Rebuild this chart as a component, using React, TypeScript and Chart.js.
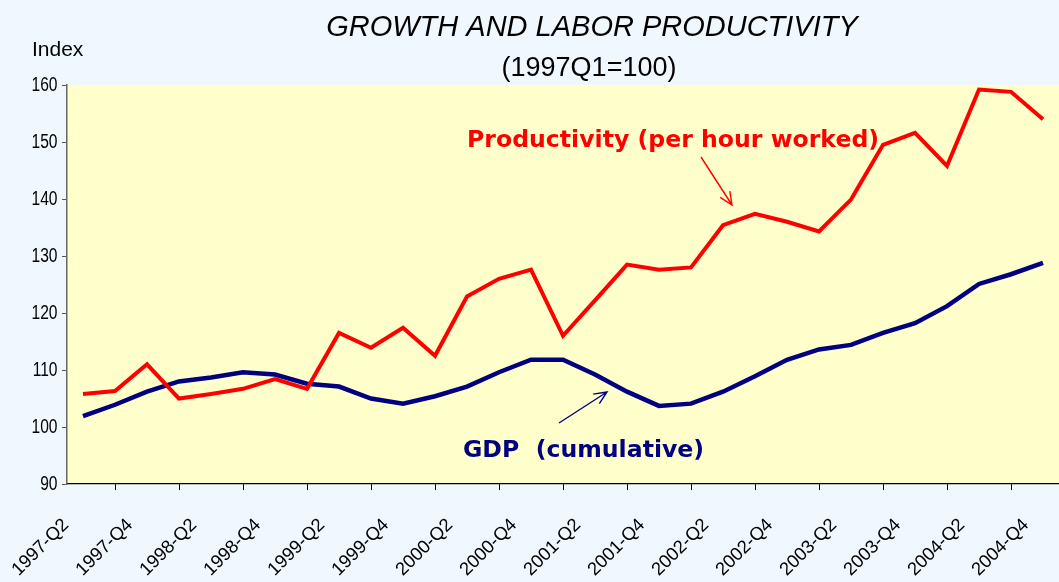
import { useEffect, useRef } from "react";
import { Chart, registerables } from "chart.js";

Chart.register(...registerables);

const quarters = [
  "1997-Q2", "1997-Q3", "1997-Q4",
  "1998-Q1", "1998-Q2", "1998-Q3", "1998-Q4",
  "1999-Q1", "1999-Q2", "1999-Q3", "1999-Q4",
  "2000-Q1", "2000-Q2", "2000-Q3", "2000-Q4",
  "2001-Q1", "2001-Q2", "2001-Q3", "2001-Q4",
  "2002-Q1", "2002-Q2", "2002-Q3", "2002-Q4",
  "2003-Q1", "2003-Q2", "2003-Q3", "2003-Q4",
  "2004-Q1", "2004-Q2", "2004-Q3", "2004-Q4",
];

const productivity = [
  105.8, 106.3, 111.0, 105.0, 105.8, 106.7, 108.4, 106.7, 116.5, 113.9,
  117.4, 112.5, 122.9, 126.0, 127.6, 116.0, 122.2, 128.5, 127.6, 128.0,
  135.4, 137.4, 136.0, 134.3, 139.9, 149.5, 151.6, 145.8, 159.2, 158.8, 154.0,
];

const gdp = [
  101.9, 103.9, 106.2, 108.0, 108.7, 109.6, 109.2, 107.6, 107.1, 105.0,
  104.1, 105.4, 107.1, 109.6, 111.8, 111.8, 109.2, 106.2, 103.7, 104.1,
  106.2, 108.9, 111.8, 113.6, 114.4, 116.5, 118.2, 121.2, 125.1, 126.8, 128.8,
];

const Y_MIN = 90;
const Y_MAX = 160;
const Y_STEP = 10;

const TITLE = "GROWTH AND LABOR PRODUCTIVITY";
const SUBTITLE = "(1997Q1=100)";
const Y_LABEL = "Index";
const PROD_LABEL = "Productivity (per hour worked)";
const GDP_LABEL = "GDP  (cumulative)";

const RED = "#FF0000";
const NAVY = "#000080";
const SANS = "'Liberation Sans', Arial, sans-serif";

function arrow(ctx: CanvasRenderingContext2D, x1: number, y1: number, x2: number, y2: number, color: string) {
  const ang = Math.atan2(y2 - y1, x2 - x1);
  const head = 14;
  const spread = 0.42;
  ctx.save();
  ctx.strokeStyle = color;
  ctx.lineWidth = 1.4;
  ctx.beginPath();
  ctx.moveTo(x1, y1);
  ctx.lineTo(x2, y2);
  ctx.moveTo(x2 - head * Math.cos(ang - spread), y2 - head * Math.sin(ang - spread));
  ctx.lineTo(x2, y2);
  ctx.lineTo(x2 - head * Math.cos(ang + spread), y2 - head * Math.sin(ang + spread));
  ctx.stroke();
  ctx.restore();
}

const decor = {
  id: "decor",
  beforeDraw(chart: any) {
    const { ctx, chartArea } = chart;
    ctx.save();
    ctx.fillStyle = "#F0F8FF";
    ctx.fillRect(0, 0, chart.width, chart.height);
    ctx.fillStyle = "#FFFFCC";
    ctx.fillRect(chartArea.left, chartArea.top, chartArea.right - chartArea.left, chartArea.bottom - chartArea.top);
    ctx.restore();
  },
  afterDraw(chart: any) {
    const { ctx } = chart;
    const xs = chart.scales.x;
    const ys = chart.scales.y;
    ctx.save();
    ctx.fillStyle = "#000";

    // y tick labels (narrow face)
    ctx.font = `19.5px ${SANS}`;
    ctx.textAlign = "right";
    ctx.textBaseline = "middle";
    for (let v = Y_MIN; v <= Y_MAX; v += Y_STEP) {
      const py = ys.getPixelForValue(v);
      ctx.save();
      ctx.translate(57.5, py + 1);
      ctx.scale(0.8, 1);
      ctx.fillText(String(v), 0, 0);
      ctx.restore();
    }

    // x tick labels, rotated, anchored at the tick marks
    const half = (xs.getPixelForValue(1) - xs.getPixelForValue(0)) / 2;
    ctx.font = `18.5px ${SANS}`;
    ctx.textAlign = "right";
    ctx.textBaseline = "middle";
    quarters.forEach((q, i) => {
      if (i % 2 !== 0) return;
      const px = xs.getPixelForValue(i) - half - 1;
      ctx.save();
      ctx.translate(px, xs.top + 38);
      ctx.rotate(-Math.PI / 4);
      ctx.fillText(q, 0, 0);
      ctx.restore();
    });

    ctx.textBaseline = "alphabetic";
    ctx.textAlign = "center";
    ctx.font = `italic 29px ${SANS}`;
    ctx.fillText(TITLE, 592, 36);
    ctx.font = `27px ${SANS}`;
    ctx.fillText(SUBTITLE, 589, 76);
    ctx.textAlign = "left";
    ctx.font = `21px ${SANS}`;
    ctx.fillText(Y_LABEL, 32, 56);

    ctx.font = "bold 23.6px 'DejaVu Sans', Verdana, sans-serif";
    ctx.fillStyle = RED;
    ctx.fillText(PROD_LABEL, 467, 147);
    ctx.fillStyle = NAVY;
    ctx.fillText(GDP_LABEL, 463, 457);
    ctx.restore();

    arrow(ctx, 701, 157, 732, 205, RED);
    arrow(ctx, 559, 423, 607, 392, NAVY);
  },
};

export default function App() {
  const ref = useRef<HTMLCanvasElement | null>(null);

  useEffect(() => {
    document.body.style.margin = "0";
    document.body.style.background = "#F0F8FF";
    const canvas = ref.current;
    if (!canvas) return;
    const chart = new Chart(canvas, {
      type: "line",
      data: {
        labels: quarters,
        datasets: [
          {
            label: "Productivity (per hour worked)",
            data: productivity,
            borderColor: RED,
            borderWidth: 4,
            pointRadius: 0,
            tension: 0,
            fill: false,
          },
          {
            label: "GDP (cumulative)",
            data: gdp,
            borderColor: NAVY,
            borderWidth: 4.5,
            pointRadius: 0,
            tension: 0,
            fill: false,
          },
        ],
      },
      options: {
        animation: false,
        responsive: true,
        maintainAspectRatio: false,
        layout: { padding: { top: 85, left: 0, right: 0, bottom: 0 } },
        plugins: {
          legend: { display: false },
          title: { display: false },
          tooltip: { enabled: false },
        },
        scales: {
          x: {
            type: "category",
            offset: true,
            grid: {
              offset: true,
              drawOnChartArea: false,
              drawTicks: true,
              tickLength: 6,
              color: "#000",
            },
            border: { display: true, color: "#000", width: 1.2 },
            ticks: {
              autoSkip: false,
              minRotation: 0,
              maxRotation: 0,
              padding: 0,
              color: "rgba(0,0,0,0)",
              font: { family: SANS, size: 6 },
              callback: (_v: any, i: number) => (i % 2 === 0 ? quarters[i] : null),
            },
            afterFit: (s: any) => {
              s.height = 98;
              s.paddingLeft = 0;
              s.paddingRight = 0;
            },
          },
          y: {
            min: Y_MIN,
            max: Y_MAX,
            grid: {
              drawOnChartArea: false,
              drawTicks: true,
              tickLength: 5,
              color: "#555",
            },
            border: { display: true, color: "#666", width: 1.5 },
            ticks: {
              stepSize: Y_STEP,
              padding: 4,
              color: "rgba(0,0,0,0)",
              font: { family: SANS, size: 10 },
            },
            afterFit: (s: any) => {
              s.width = 67;
              s.paddingTop = 0;
              s.paddingBottom = 0;
            },
          },
        },
      },
      plugins: [decor],
    });
    return () => chart.destroy();
  }, []);

  return (
    <div style={{ position: "absolute", left: 0, top: 0, width: 1059, height: 582 }}>
      <canvas ref={ref} />
    </div>
  );
}
